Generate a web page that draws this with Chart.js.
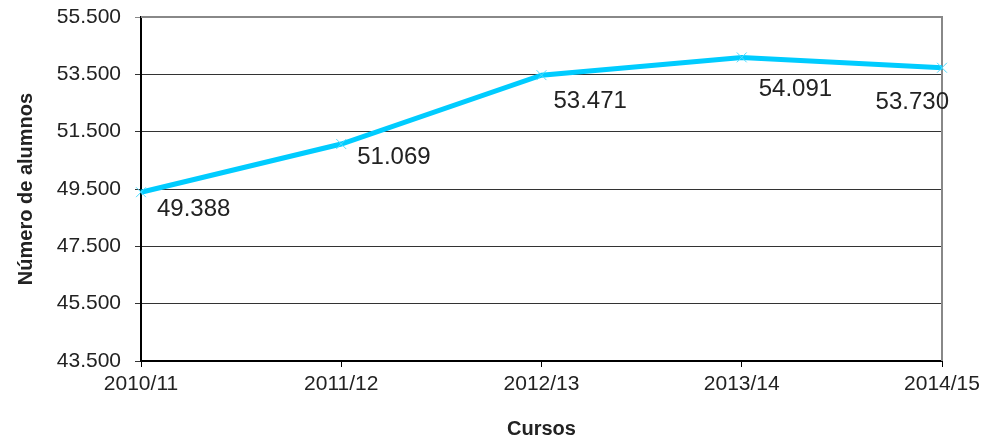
<!DOCTYPE html>
<html>
<head>
<meta charset="utf-8">
<script src="https://cdn.jsdelivr.net/npm/chart.js@4"></script>
<style>
  html, body { margin: 0; padding: 0; background: #fff; }
  #wrap { width: 1000px; height: 439px; position: relative; }
</style>
</head>
<body>
<div id="wrap"><canvas id="alumnosChart"></canvas></div>
<script>
// Datos del gráfico
const cursos = ['2010/11', '2011/12', '2012/13', '2013/14', '2014/15'];
const alumnos = [49388, 51069, 53471, 54091, 53730];
const yTicks = [43500, 45500, 47500, 49500, 51500, 53500, 55500];

// Desplazamiento de cada etiqueta respecto a su punto (px)
const etiquetaDx = [16, 16, 12, 17, 14];
const etiquetaDy = [24, 20, 33, 39, 41];

// Formato con punto como separador de miles
function fmt(n) {
    return String(n).replace(/\B(?=(\d{3})+(?!\d))/g, '.');
}

// Etiquetas de valor abajo a la derecha de cada punto
const etiquetas = {
    id: 'etiquetas',
    afterDatasetsDraw(chart) {
        const ctx = chart.ctx;
        const meta = chart.getDatasetMeta(0);
        ctx.save();
        ctx.font = '24px "Liberation Sans", Arial, sans-serif';
        ctx.fillStyle = '#222';
        ctx.textAlign = 'left';
        ctx.textBaseline = 'alphabetic';
        meta.data.forEach((pt, i) => {
            const txt = fmt(alumnos[i]);
            const w = ctx.measureText(txt).width;
            let x = pt.x + etiquetaDx[i];
            if (x + w > 949) x = 949 - w;
            ctx.fillText(txt, x, pt.y + etiquetaDy[i]);
        });
        ctx.restore();
    }
};

// Marco gris del área de trazado
const marco = {
    id: 'marco',
    beforeDatasetsDraw(chart) {
        const a = chart.chartArea;
        const ctx = chart.ctx;
        ctx.save();
        ctx.strokeStyle = '#888';
        ctx.lineWidth = 2;
        ctx.beginPath();
        ctx.moveTo(a.left, a.top);
        ctx.lineTo(a.right, a.top);
        ctx.lineTo(a.right, a.bottom);
        ctx.stroke();
        ctx.restore();
    }
};

const config = {
    type: 'line',
    data: {
        labels: cursos,
        datasets: [{
            data: alumnos,
            borderColor: '#00ccff',
            borderWidth: 5,
            tension: 0,
            fill: false,
            clip: false,
            pointStyle: 'crossRot',
            pointRadius: 7,
            pointBorderWidth: 1,
            pointBorderColor: '#4fdcff',
            pointBackgroundColor: '#4fdcff'
        }]
    },
    options: {
        responsive: true,
        maintainAspectRatio: false,
        animation: false,
        layout: { padding: { top: 17, right: 58, left: 0, bottom: 0 } },
        plugins: {
            legend: { display: false },
            tooltip: { enabled: false }
        },
        scales: {
            x: {
                offset: false,
                afterFit(scale) {
                    scale.height = 78;
                    scale.paddingLeft = 0;
                    scale.paddingRight = 0;
                },
                border: { display: true, color: '#000', width: 2 },
                grid: { drawOnChartArea: false, drawTicks: true, tickLength: 6, color: '#000' },
                ticks: {
                    color: '#222',
                    padding: 5,
                    maxRotation: 0,
                    font: { family: '"Liberation Sans", Arial, sans-serif', size: 21 }
                },
                title: {
                    display: true,
                    text: 'Cursos',
                    color: '#222',
                    padding: { top: 0, bottom: -2 },
                    font: { family: '"Liberation Sans", Arial, sans-serif', size: 20, weight: 'bold' }
                }
            },
            y: {
                min: 43500,
                max: 55500,
                afterFit(scale) {
                    scale.width = 141;
                    scale.paddingTop = 0;
                    scale.paddingBottom = 0;
                },
                afterBuildTicks(scale) { scale.ticks = yTicks.map(v => ({ value: v })); },
                border: { display: true, color: '#000', width: 2 },
                grid: {
                    tickLength: 6,
                    lineWidth: 1,
                    color: c => (c.tick && c.tick.value === 55500) ? '#888' : '#333'
                },
                ticks: {
                    color: '#222',
                    padding: 14,
                    callback: v => fmt(v),
                    font: { family: '"Liberation Sans", Arial, sans-serif', size: 21 }
                },
                title: {
                    display: true,
                    text: 'Número de alumnos',
                    color: '#222',
                    padding: { top: 14, bottom: 0 },
                    font: { family: '"Liberation Sans", Arial, sans-serif', size: 20, weight: 'bold' }
                }
            }
        }
    },
    plugins: [marco, etiquetas]
};

function initChart() {
    const ctx = document.getElementById('alumnosChart').getContext('2d');
    new Chart(ctx, config);
}

document.addEventListener('DOMContentLoaded', initChart);
</script>
</body>
</html>
